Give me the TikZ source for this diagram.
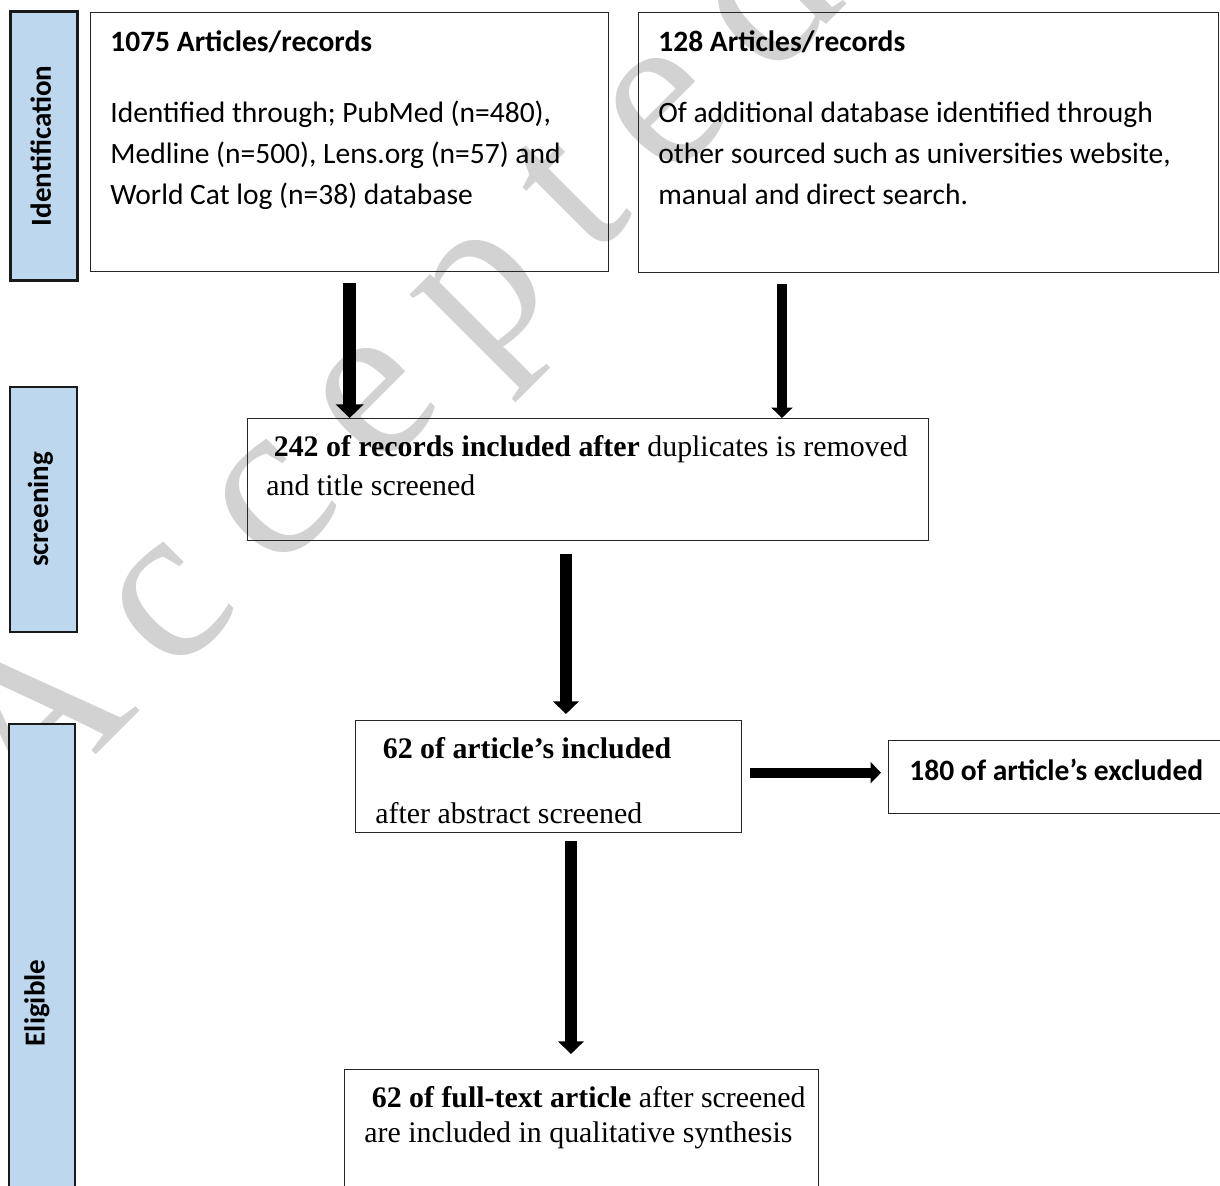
\documentclass[tikz,border=0pt]{standalone}
\usepackage{fontspec}
\setmainfont{Liberation Serif}
\newfontfamily\calfont{Carlito}
\usetikzlibrary{arrows.meta,positioning}
\definecolor{stageblue}{HTML}{BDD7EE}
\definecolor{stampgray}{HTML}{D2D2D2}

\tikzset{
  stage/.style={draw=black!90, line width=1pt, fill=stageblue, anchor=north west, minimum width=1.34cm, inner sep=0pt},
  stagelabel/.style={rotate=90, inner sep=0pt, font=\calfont\bfseries\fontsize{16.5}{16.5}\selectfont},
  frame/.style={draw=black!85, line width=0.8pt, anchor=north west, inner sep=0pt},
  caltext/.style={font=\calfont\fontsize{16.8}{23.3}\selectfont, align=left, inner sep=0pt, anchor=north west},
  romtext/.style={font=\fontsize{17}{22.2}\selectfont, align=left, inner sep=0pt, anchor=north west},
  flow/.style={line width=#1, -{Triangle[length=0pt 1.05, width=0pt 2.1]}},
  stampword/.style={font=\fontsize{128}{128}\selectfont\addfontfeature{LetterSpace=20}, text=stampgray, rotate=45, anchor=base west, inner sep=0pt}
}

\begin{document}
\begin{tikzpicture}[x=0.02cm, y=-0.02cm]
  \useasboundingbox (0,0) rectangle (1220,1186);

  %%%%% watermark %%%%%
  \node[stampword] (stamp) at (26,825) {Accepted};

  %%%%% stages %%%%%
  \node[stage, line width=1.6pt, minimum height=5.38cm] (idstage) at (9,10) {};
  \node[stagelabel] (idlabel) at ([xshift=-0.06cm]idstage.center) {Identification};

  \node[stage, minimum height=4.9cm] (scrstage) at (9,386) {};
  \node[stagelabel] (scrlabel) at ([xshift=-0.06cm]scrstage.center) {screening};

  \node[stage, minimum width=1.32cm, minimum height=10cm] (eligstage) at (8,723) {};
  \node[stagelabel] (eliglabel) at (37,1003) {Eligible};

  %%%%% records %%%%%
  \node[frame, minimum width=10.36cm, minimum height=5.18cm] (recA) at (90,12) {};
  \node[caltext, below right=0.36cm and 0.4cm of recA.north west] (recAtxt)
    {\bfseries 1075 Articles/records\\[17.5pt]
     Identified through; PubMed (n=480),\\
     Medline (n=500), Lens.org (n=57) and\\
     World Cat log (n=38) database};

  \node[frame, minimum width=11.6cm, minimum height=5.2cm] (recB) at (638,12) {};
  \node[caltext, below right=0.36cm and 0.4cm of recB.north west] (recBtxt)
    {\bfseries 128 Articles/records\\[17.5pt]
     Of additional database identified through\\
     other sourced such as universities website,\\
     manual and direct search.};

  \node[frame, minimum width=13.62cm, minimum height=2.44cm] (dup) at (247,418) {};
  \node[romtext, below right=0.34cm and 0.38cm of dup.north west] (duptxt)
    {\ \textbf{242 of records included after} duplicates is removed\\
     and title screened};

  \node[frame, minimum width=7.72cm, minimum height=2.24cm] (incl) at (355,720) {};
  \node[romtext, below right=0.34cm and 0.4cm of incl.north west] (incltxt)
    {\ \textbf{62 of article’s included}\\[15pt]
     after abstract screened};

  \node[frame, minimum width=6.8cm, minimum height=1.46cm] (excl) at (888,740) {};
  \node[caltext, below right=0.38cm and 0.42cm of excl.north west] (excltxt)
    {\bfseries 180 of article’s excluded};

  \node[frame, minimum width=9.48cm, minimum height=4cm] (full) at (344,1069) {};
  \node[romtext, below right=0.34cm and 0.4cm of full.north west, font=\fontsize{17}{20}\selectfont] (fulltxt)
    {\ \textbf{62 of full-text article} after screened\\
     are included in qualitative synthesis};

  %%%%% arrows %%%%%
  \coordinate (fromA) at ([yshift=-0.22cm]recA.south);
  \coordinate (fromB) at ([xshift=2.88cm,yshift=-0.22cm]recB.south west);
  \coordinate (fromdup) at ([xshift=6.38cm,yshift=-0.26cm]dup.south west);
  \coordinate (fromincl) at ([xshift=4.32cm,yshift=-0.16cm]incl.south west);

  \draw[flow=7.4pt] (fromA) -- (fromA |- dup.north);
  \draw[flow=5.6pt] (fromB) -- (fromB |- dup.north);
  \draw[flow=6.8pt, shorten >=0.12cm] (fromdup) -- (fromdup |- incl.north);
  \draw[flow=5.6pt] ([xshift=0.16cm,yshift=0.08cm]incl.east) -- ([xshift=-0.14cm,yshift=0.08cm]incl.east -| excl.west);
  \draw[flow=6.8pt, shorten >=0.3cm] (fromincl) -- (fromincl |- full.north);
\end{tikzpicture}
\end{document}
